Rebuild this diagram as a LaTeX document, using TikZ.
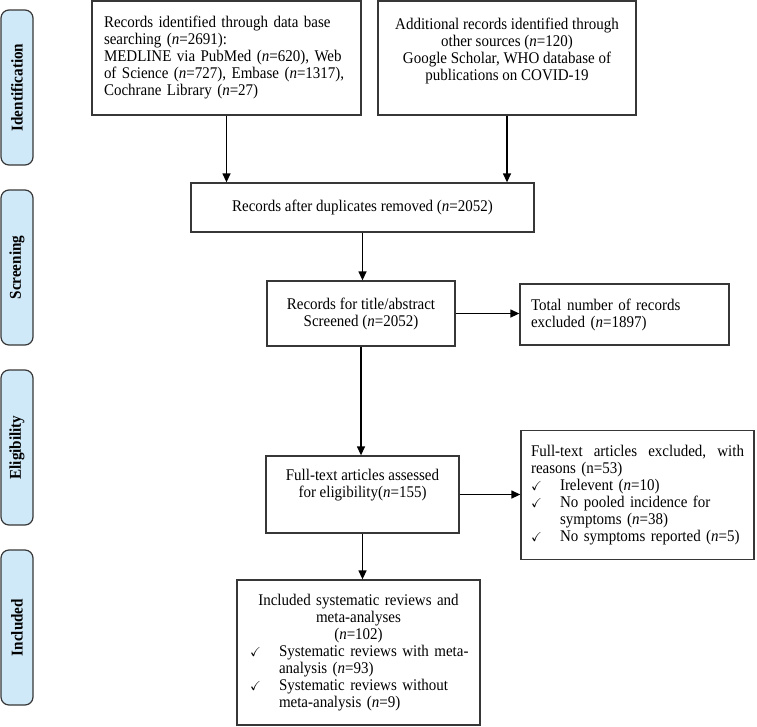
\documentclass[tikz,border=0pt]{standalone}
\usepackage{amssymb}
\usepackage{fontspec}
\setmainfont[FakeStretch=0.92]{Liberation Serif}
\usetikzlibrary{arrows.meta}

\definecolor{phasefill}{RGB}{207,233,248}
\definecolor{boxline}{RGB}{55,55,55}

\def\chkw{29pt}
\def\chk{\makebox[\chkw][l]{\fontsize{13}{13}\selectfont$\checkmark$}}
\def\chkin{\hspace*{\chkw}}
\def\nn{\textit{n}}
\def\exclw{213pt}

\begin{document}
\begin{tikzpicture}[
    x=1pt, y=-1pt,
    font=\fontsize{16.3}{17}\selectfont,
    box/.style={draw=boxline, line width=1.3pt, inner ysep=4pt},
    phase/.style={draw=boxline, line width=1.2pt, fill=phasefill,
      rounded corners=8pt, rotate=90, minimum width=155pt,
      minimum height=32pt, font=\fontsize{16.5}{20}\selectfont\bfseries},
    flow/.style={-{Triangle[length=9pt,width=8pt]}, line width=1.3pt}
  ]
      \useasboundingbox (0,0) rectangle (757,726);

      % Phases
      \foreach \name/\ypos in {Identification/87.5, Screening/267.5,
                               Eligibility/447.5, Included/627.5}
        \node[phase] (\name) at (17,\ypos) {\name};

      % Identification
      \node[box, text width=245pt, inner xsep=12pt, minimum height=114pt,
            align=left] (db) at (226.5,58)
        {Records identified through data base\\
         searching (\nn=2691):\\
         MEDLINE via PubMed (\nn=620), Web\\
         of Science (\nn=727), Embase (\nn=1317),\\
         Cochrane Library (\nn=27)};
      \node[box, minimum width=258pt, minimum height=114pt, align=center]
        (other) at (507,58)
        {Additional records identified through\\
         other sources (\nn=120)\\
         Google Scholar, WHO database of\\
         publications on COVID-19\\ \mbox{}};

      % Screening
      \node[box, minimum width=343pt, minimum height=49pt, align=center]
        (dup) at (362.5,207.5)
        {Records after duplicates removed (\nn=2052)};
      \node[box, minimum width=188pt, minimum height=65pt, align=center]
        (screen) at (361,313.5)
        {Records for title/abstract\\ Screened (\nn=2052)};
      \node[box, text width=187pt, inner xsep=11pt, minimum height=61pt,
            align=left] (excl) at (624.5,314.5)
        {Total number of records\\ excluded (\nn=1897)};

      % Eligibility
      \node[box, minimum width=193pt, minimum height=77pt, align=center]
        (full) at (362.5,494.5)
        {Full-text articles assessed\\ for eligibility(\nn=155)\\[6pt]};
      \node[box, text width=\exclw, inner xsep=10pt, minimum height=129pt,
            align=left] (fullexcl) at (637.5,495)
        {\hbox to \exclw{Full-text\hfill articles\hfill excluded,\hfill with}
         reasons (n=53)\\
         \chk Irelevent (\nn=10)\\
         \chk No pooled incidence for\\
         \chkin symptoms (\nn=38)\\
         \chk No symptoms reported (\nn=5)};

      % Included
      \node[box, text width=227pt, inner xsep=8pt, minimum height=145pt,
            align=left] (incl) at (358.5,652.5)
        {{\centering Included systematic reviews and\\
          meta-analyses\\ (\nn=102)\par}
         \hspace*{5pt}\chk Systematic reviews with meta-\\
         \hspace*{5pt}\chkin analysis (\nn=93)\\
         \hspace*{5pt}\chk Systematic reviews without\\
         \hspace*{5pt}\chkin meta-analysis (\nn=9)};

      % Arrows
      \draw[flow] (db.south) -- (db.south |- dup.north);
      \draw[flow] (other.south) -- (other.south |- dup.north);
      \draw[flow] (dup.south) -- (dup.south |- screen.north);
      \draw[flow] (screen.east) -- (screen.east -| excl.west);
      \draw[flow] (screen.south) -- (screen.south |- full.north);
      \draw[flow] (full.east) -- (full.east -| fullexcl.west);
      \draw[flow] (full.south) -- (full.south |- incl.north);
\end{tikzpicture}
\end{document}
